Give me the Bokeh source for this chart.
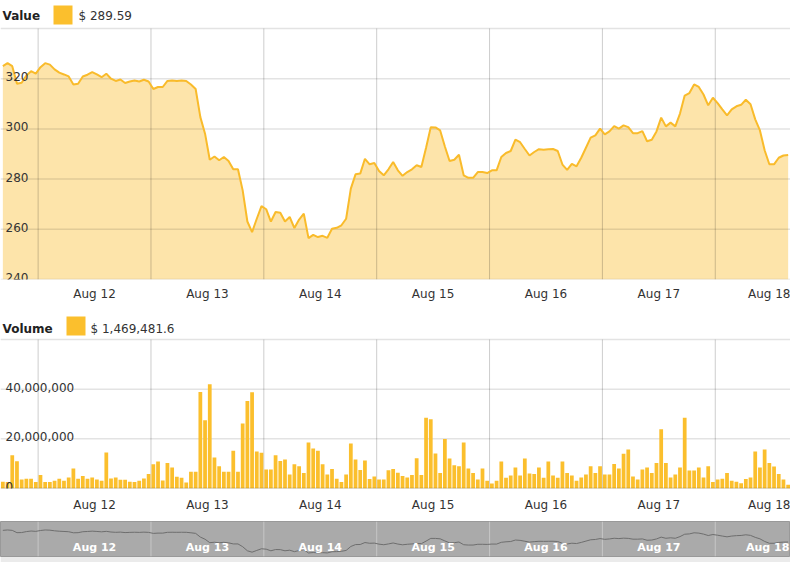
from bokeh.plotting import figure
from bokeh.layouts import column
from bokeh.models import Range1d, FixedTicker
from bokeh.embed import file_html
from bokeh.resources import INLINE
from bokeh.core.properties import value

# ---------------- data ----------------
# hourly observations, Aug 11 16:00 -> Aug 18 15:00 (168 hours); x = hours since start
hours = list(range(168))
day_starts = [8, 32, 56, 80, 104, 128, 152]          # midnight of each day (hours)
day_mids = [20, 44, 68, 92, 116, 140, 164]           # noon of each day (hours)
day_labels = ["Aug 12", "Aug 13", "Aug 14", "Aug 15", "Aug 16", "Aug 17", "Aug 18"]

price = [
    325.0, 326.2, 325.0, 318.0, 318.4, 321.3, 323.0, 322.0, 324.6, 326.2,
    325.6, 323.7, 322.4, 321.7, 320.9, 317.7, 318.0, 320.9, 321.6, 322.6,
    321.7, 320.6, 322.0, 320.0, 319.1, 319.7, 318.3, 318.9, 319.3, 318.9,
    319.6, 318.9, 315.9, 316.7, 316.7, 319.1, 319.3, 319.1, 319.3, 319.1,
    317.7, 315.9, 304.7, 298.1, 287.7, 289.0, 287.5, 288.8, 287.2, 283.9,
    283.9, 275.5, 263.1, 258.9, 264.2, 269.2, 268.0, 263.1, 266.9, 266.6,
    263.1, 264.9, 260.5, 263.9, 266.2, 256.5, 257.8, 256.9, 257.4, 256.6,
    260.2, 260.6, 261.6, 264.2, 276.2, 281.9, 282.2, 288.1, 285.9, 286.4,
    283.2, 281.5, 283.9, 286.8, 283.5, 281.3, 282.8, 283.9, 285.5, 284.8,
    292.5, 300.7, 300.6, 299.4, 293.0, 287.2, 287.7, 289.7, 281.5, 280.5,
    280.5, 282.8, 282.8, 282.4, 283.5, 283.5, 288.8, 290.4, 291.2, 295.7,
    294.7, 292.0, 289.4, 290.8, 291.9, 291.7, 291.9, 292.0, 291.2, 285.8,
    283.7, 286.1, 285.1, 288.5, 292.5, 296.5, 297.4, 300.1, 297.8, 299.0,
    301.1, 300.1, 301.4, 300.7, 298.3, 298.3, 299.1, 295.1, 295.7, 299.0,
    304.5, 301.0, 302.5, 301.0, 306.1, 313.3, 314.3, 317.7, 316.7, 313.7,
    309.4, 312.4, 310.3, 307.8, 305.4, 307.8, 309.0, 309.6, 311.6, 309.8,
    303.8, 299.4, 291.5, 285.9, 285.9, 288.5, 289.4, 289.59,
]

# volume in millions of $
volume_m = [
    2.7, 2.6, 13.4, 11.0, 3.6, 3.9, 3.9, 2.6,
    5.4, 2.6, 2.6, 3.1, 3.9, 3.1, 4.4, 8.1, 3.9, 5.0, 3.9, 4.4,
    3.6, 3.1, 14.5, 4.0, 4.4, 3.5, 3.5, 2.7, 2.6, 3.1, 4.0, 5.8,
    9.8, 10.9, 3.2, 10.3, 8.5, 4.7, 4.3, 2.4, 6.7, 6.7, 38.9, 27.5,
    42.0, 12.5, 9.0, 6.7, 6.7, 15.2, 6.7, 26.2, 35.2, 38.8, 14.9, 14.4,
    7.7, 7.7, 13.4, 11.1, 11.7, 5.6, 9.8, 9.0, 6.2, 18.5, 16.1, 15.2,
    9.8, 5.6, 7.9, 3.9, 2.6, 5.6, 18.1, 11.7, 7.5, 11.3, 3.8, 4.8,
    3.6, 3.6, 7.4, 7.9, 6.3, 5.0, 4.4, 5.4, 12.2, 5.4, 28.5, 27.9,
    14.1, 6.2, 19.9, 12.1, 9.4, 9.0, 18.5, 8.1, 6.2, 3.6, 8.1, 3.1,
    2.0, 3.1, 10.9, 4.3, 5.2, 8.5, 5.2, 12.1, 6.0, 5.8, 8.5, 4.3,
    10.9, 5.2, 4.3, 10.9, 6.2, 5.2, 3.1, 4.4, 5.6, 9.0, 6.2, 9.0,
    5.6, 5.6, 9.9, 8.1, 14.0, 15.7, 4.8, 3.6, 7.7, 8.5, 6.2, 10.3,
    23.9, 10.3, 4.4, 5.6, 8.5, 28.5, 7.2, 7.2, 8.5, 4.4, 9.0, 2.6,
    3.6, 3.9, 6.2, 3.1, 2.7, 2.1, 3.8, 4.4, 14.9, 8.5, 15.7, 10.3,
    8.9, 5.8, 3.6, 1.47,
]

price_ticks = [240, 260, 280, 300, 320, 340]
price_tick_labels = ["240", "260", "280", "300", "320", ""]
vol_ticks = [0, 20, 40, 60]
vol_tick_labels = ["0", "20,000,000", "40,000,000", ""]

price_title = "Value"
price_last = "$ 289.59"
vol_title = "Volume"
vol_last = "$ 1,469,481.6"

# ---------------- style ----------------
FONT = "DejaVu Sans"
AMBER = "#F9BB2B"
BAR = "#FBBF2D"
TXT = "#333333"
W = 790
x_mid = [h + 0.5 for h in hours]
X0, X1 = 0, 168
px_to_x = (X1 - X0) / W
nav_label_shift = [0, 0, 0, 0, 0, 0, -4]


def style_xaxis(p, standoff):
    p.xaxis.ticker = FixedTicker(ticks=day_mids)
    p.xaxis.major_label_overrides = dict(zip(day_mids, day_labels))
    p.xaxis.axis_line_color = None
    p.xaxis.major_tick_line_color = None
    p.xaxis.minor_tick_line_color = None
    p.xaxis.major_tick_out = 0
    p.xaxis.major_tick_in = 0
    p.xaxis.major_label_standoff = standoff
    p.xaxis.major_label_text_font = FONT
    p.xaxis.major_label_text_font_size = "12px"
    p.xaxis.major_label_text_color = TXT
    p.xgrid.visible = False
    p.ygrid.visible = False


# ---------------- value chart ----------------
p1 = figure(width=W, height=310, x_range=Range1d(X0, X1), y_range=Range1d(240, 351.16),
            output_backend="svg", toolbar_location=None, y_axis_location=None,
            min_border_left=0, min_border_right=0, min_border_top=0, min_border_bottom=31,
            outline_line_color=None)
style_xaxis(p1, 7)

p1.varea(x=x_mid, y1=price_ticks[0], y2=price, fill_color=AMBER, fill_alpha=0.4)
p1.segment(x0=X0, x1=X1, y0=price_ticks, y1=price_ticks, line_color="black", line_alpha=0.11, line_width=1.5)
p1.segment(x0=day_starts, x1=day_starts, y0=price_ticks[0], y1=price_ticks[-1],
           line_color="black", line_alpha=0.2, line_width=1)
p1.line(x=x_mid, y=price, line_color=AMBER, line_width=2)
p1.text(x=X0, y=price_ticks[:-1], text=price_tick_labels[:-1], x_offset=5, y_offset=-2,
        text_baseline="alphabetic", text_font=value(FONT), text_font_size="12px", text_color=TXT)
# header
p1.text(x=X0, y=344.8, text=[price_title], x_offset=2, text_baseline="middle",
        text_font=value(FONT), text_font_size="12px", text_font_style="bold", text_color="#222222")
p1.scatter(x=[62.5 * px_to_x], y=[345.4], marker="square", size=19, fill_color=BAR, line_color=None)
p1.text(x=X0, y=344.8, text=[price_last], x_offset=78, text_baseline="middle",
        text_font=value(FONT), text_font_size="12px", text_color=TXT)

# ---------------- volume chart ----------------
p2 = figure(width=W, height=211, x_range=p1.x_range, y_range=Range1d(0, 71.69),
            output_backend="svg", toolbar_location=None, y_axis_location=None,
            min_border_left=0, min_border_right=0, min_border_top=0, min_border_bottom=33,
            outline_line_color=None)
style_xaxis(p2, 9)

p2.segment(x0=X0, x1=X1, y0=vol_ticks[1:], y1=vol_ticks[1:], line_color="black", line_alpha=0.11, line_width=1.5)
p2.segment(x0=day_starts, x1=day_starts, y0=vol_ticks[0], y1=vol_ticks[-1],
           line_color="black", line_alpha=0.2, line_width=1)
p2.vbar(x=x_mid, top=volume_m, bottom=0, width=0.8, fill_color=BAR, line_color=None)
p2.segment(x0=X0, x1=X1, y0=[vol_ticks[0]], y1=[vol_ticks[0]], line_color="black", line_alpha=0.25, line_width=1.5)
p2.text(x=X0, y=vol_ticks[:-1], text=vol_tick_labels[:-1], x_offset=5, y_offset=-2,
        text_baseline="alphabetic", text_font=value(FONT), text_font_size="12px", text_color=TXT)
p2.text(x=X0, y=64.4, text=[vol_title], x_offset=2, text_baseline="middle",
        text_font=value(FONT), text_font_size="12px", text_font_style="bold", text_color="#222222")
p2.scatter(x=[75.5 * px_to_x], y=[65.4], marker="square", size=19, fill_color=BAR, line_color=None)
p2.text(x=X0, y=64.4, text=[vol_last], x_offset=90, text_baseline="middle",
        text_font=value(FONT), text_font_size="12px", text_color=TXT)

# ---------------- navigator ----------------
NY0, NY1 = 245.8, 351.9
p3 = figure(width=W, height=41, x_range=Range1d(X0, X1), y_range=Range1d(NY0, NY1),
            output_backend="svg", toolbar_location=None, x_axis_location=None, y_axis_location=None,
            min_border_left=0, min_border_right=0, min_border_top=0, min_border_bottom=6,
            background_fill_color="#aaaaaa", border_fill_color="#ebebeb",
            outline_line_color="#999999")
p3.xgrid.visible = False
p3.ygrid.visible = False
p3.segment(x0=day_starts, x1=day_starts, y0=NY0, y1=NY1, line_color="#c6c6c6", line_width=1)
p3.line(x=x_mid, y=price, line_color="#6e6e6e", line_width=1)
p3.text(x=day_mids, y=273.1, text=day_labels, x_offset=nav_label_shift, text_align="center",
        text_baseline="middle", text_font=value(FONT), text_font_size="11px",
        text_font_style="bold", text_color="white")

layout = column(p1, p2, p3)
open("out.html", "w").write(file_html(layout, INLINE))
